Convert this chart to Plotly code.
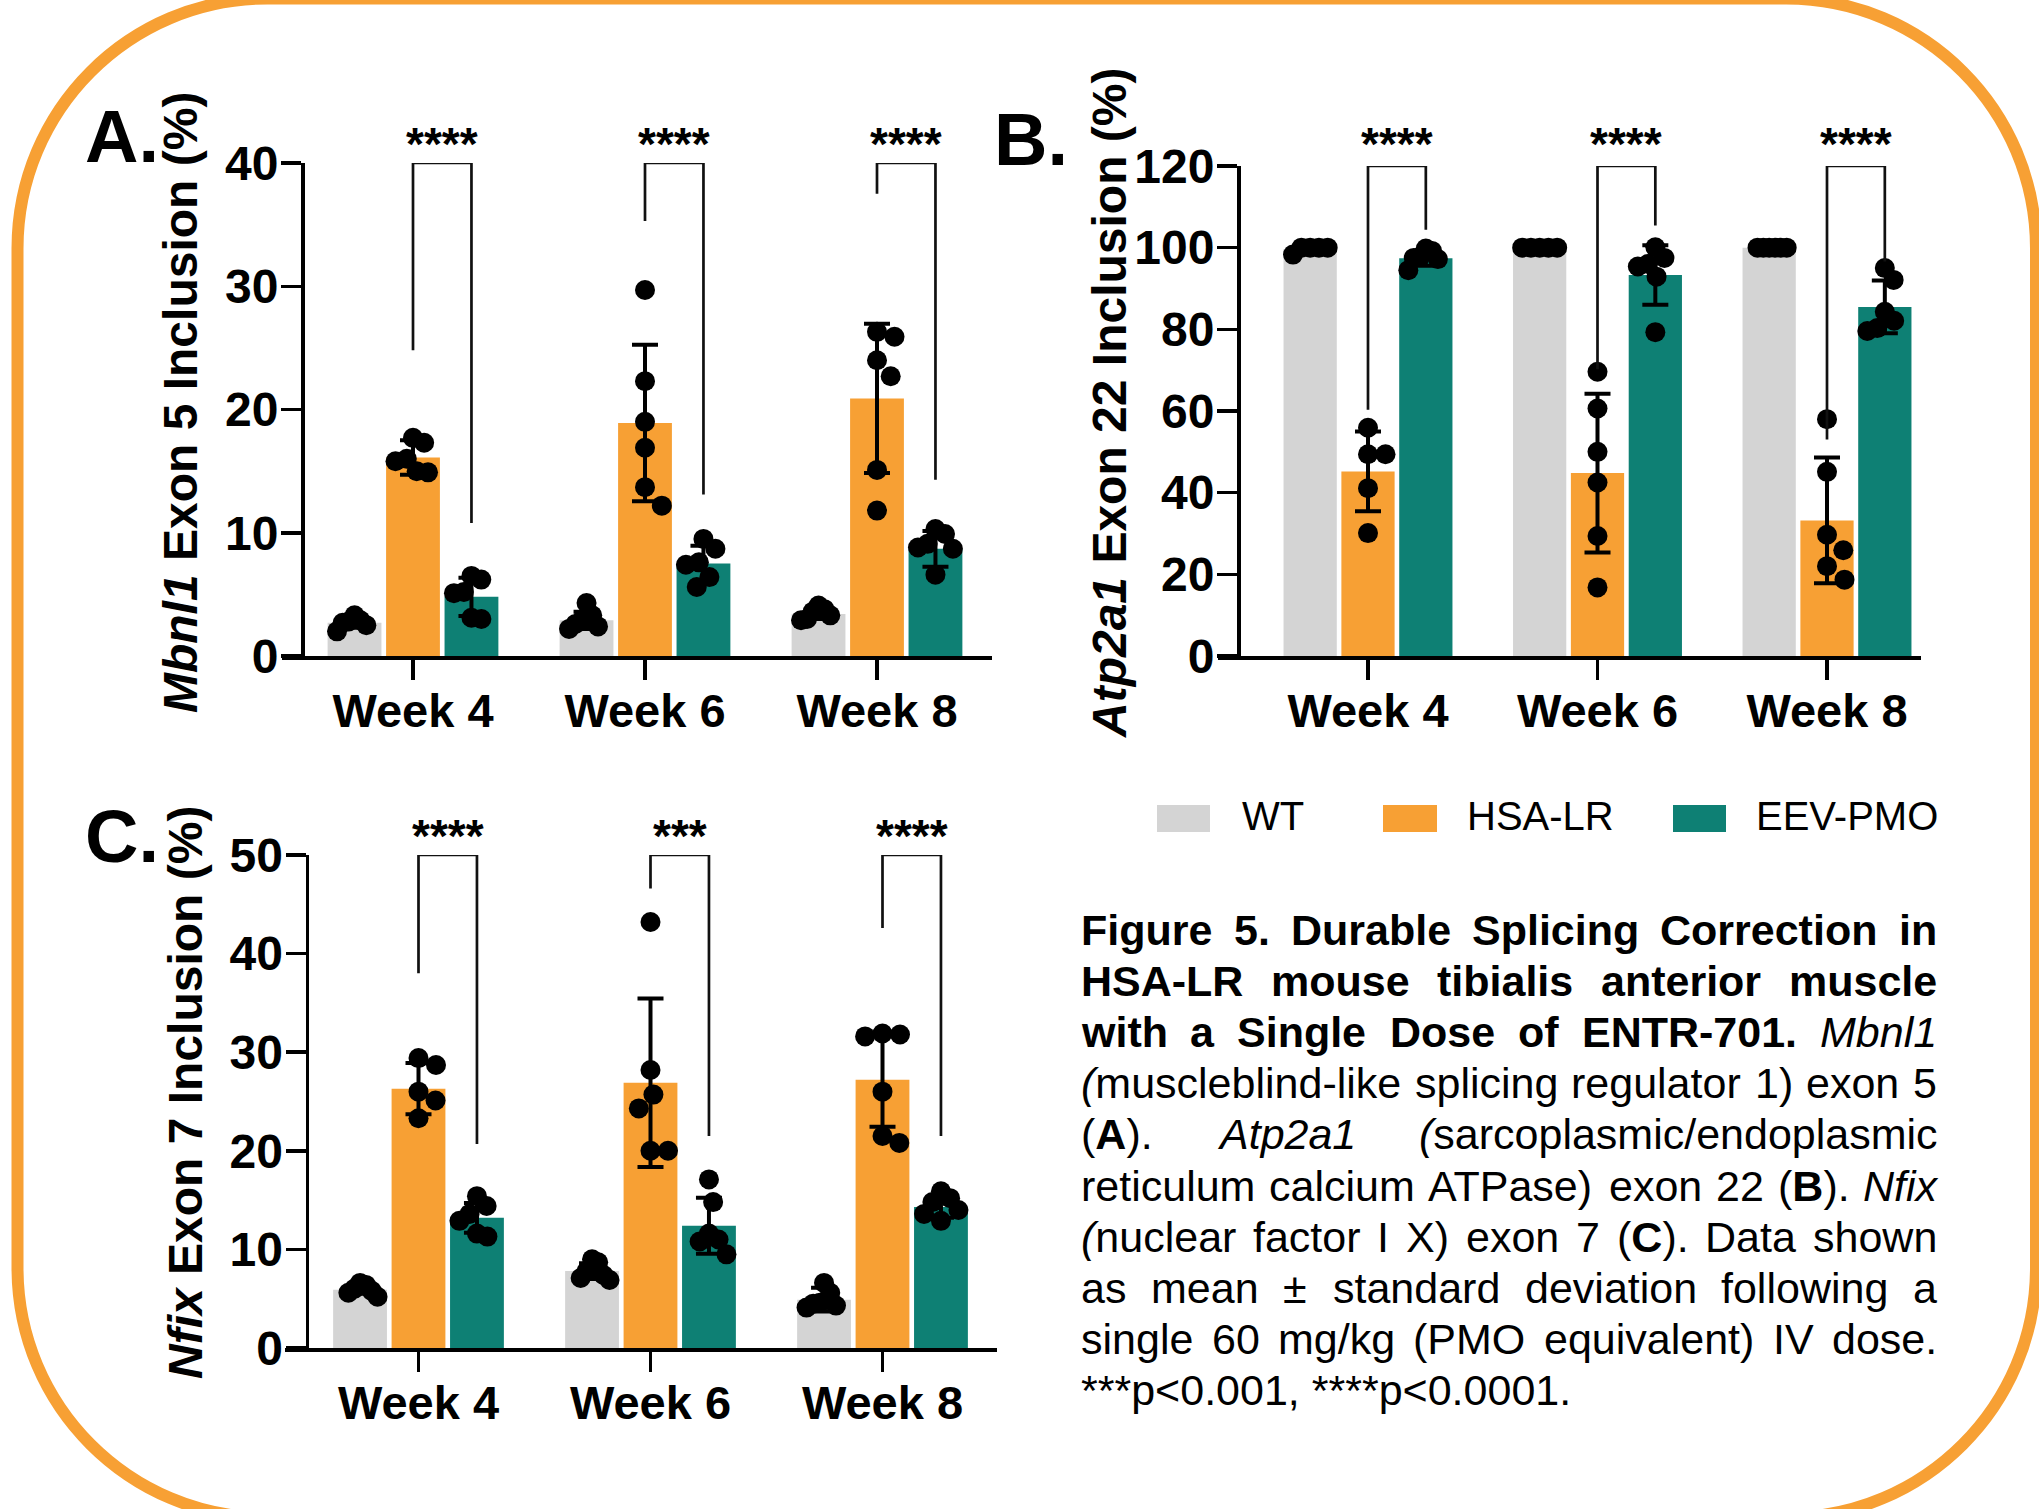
import math
import re
import plotly.graph_objects as go

# ---------------- data ----------------
weeks = ["Week 4", "Week 6", "Week 8"]
groups = ["WT", "HSA-LR", "EEV-PMO"]

# Panel A: Mbnl1 exon 5 inclusion (%)
a_wt_mean = [2.7, 2.9, 3.4]
a_wt_sd = [0.4, 0.7, 0.4]
a_wt_pts = [[2.0, 2.5, 2.7, 2.9, 3.3, 2.8], [4.3, 3.3, 2.9, 2.6, 2.4, 2.2], [3.0, 3.3, 3.6, 3.8, 4.1, 2.9]]
a_hsa_mean = [16.1, 18.9, 20.9]
a_hsa_sd = [1.4, 6.35, 6.05]
a_hsa_pts = [[17.7, 17.3, 16.0, 15.8, 15.0, 14.9], [29.7, 22.3, 19.0, 16.9, 13.7, 12.2], [26.3, 25.9, 24.0, 22.7, 15.1, 11.8]]
a_eev_mean = [4.8, 7.5, 8.7]
a_eev_sd = [1.55, 1.45, 1.45]
a_eev_pts = [[6.5, 6.2, 5.2, 5.1, 3.1, 3.0], [9.5, 8.7, 7.6, 7.4, 6.4, 5.6], [10.3, 9.9, 9.1, 8.8, 8.7, 6.6]]
a_brk_left = [24.8, 35.3, 37.5]
a_brk_right = [10.8, 13.1, 14.3]
a_stars = ["****", "****", "****"]

# Panel B: Atp2a1 exon 22 inclusion (%)
b_wt_mean = [99.7, 100.0, 100.0]
b_wt_sd = [0.6, 0.0, 0.0]
b_wt_pts = [[100, 100, 100, 98.3, 100], [100, 100, 100, 100, 100], [100, 100, 100, 100, 100, 100]]
b_hsa_mean = [45.2, 44.8, 33.2]
b_hsa_sd = [9.75, 19.45, 15.4]
b_hsa_pts = [[55.9, 49.4, 49.4, 41.1, 30.1], [69.6, 60.6, 50.0, 42.5, 29.4, 16.8], [58.0, 45.1, 29.7, 25.9, 22.0, 18.7]]
b_eev_mean = [97.4, 93.3, 85.5]
b_eev_sd = [1.8, 7.3, 6.45]
b_eev_pts = [[99.8, 99.2, 97.8, 97.5, 97.2, 94.5], [100.1, 97.5, 96.0, 95.4, 92.9, 79.3], [95.0, 92.1, 84.3, 82.1, 80.3, 79.6]]
b_brk_left = [60.3, 70.2, 53.0]
b_brk_right = [104.4, 105.4, 96.6]
b_stars = ["****", "****", "****"]

# Panel C: Nfix exon 7 inclusion (%)
c_wt_mean = [5.9, 7.8, 4.9]
c_wt_sd = [0.4, 0.8, 1.2]
c_wt_pts = [[6.6, 6.4, 6.0, 5.8, 5.6, 5.2], [9.0, 8.7, 7.8, 7.4, 7.1, 6.9], [6.6, 5.6, 4.6, 4.3, 4.1, 4.5]]
c_hsa_mean = [26.3, 26.9, 27.2]
c_hsa_sd = [2.6, 8.55, 4.75]
c_hsa_pts = [[29.4, 28.7, 26.0, 25.1, 23.3], [43.2, 28.2, 25.7, 24.3, 20.0, 20.0], [31.9, 31.8, 31.6, 26.0, 21.5, 20.8]]
c_eev_mean = [13.2, 12.4, 14.3]
c_eev_sd = [1.5, 2.85, 1.1]
c_eev_pts = [[15.4, 14.4, 13.6, 12.9, 11.6, 11.3], [17.1, 14.8, 11.6, 11.0, 10.8, 9.5], [15.9, 15.2, 14.8, 14.0, 13.6, 12.9]]
c_brk_left = [38.0, 46.6, 42.6]
c_brk_right = [20.7, 21.5, 21.5]
c_stars = ["****", "***", "****"]

colors = ["#D4D4D4", "#F7A034", "#0E8074"]
FONT = "Liberation Sans, Arial, Helvetica, sans-serif"

# ---------------- layout helpers ----------------
W, H = 2039, 1509


def px(x):
    return x / W


def py(y):
    return 1 - y / H


def swarm(vals, ppy, D=25.0, limit=17.5):
    n = len(vals)
    order = sorted(range(n), key=lambda i: -vals[i])
    placed = []
    offs = [0.0] * n
    for i in order:
        y = vals[i] * ppy
        cands = [0.0]
        for (qx, qy) in placed:
            dy = abs(qy - y)
            if dy < D:
                dx = math.sqrt(D * D - dy * dy)
                cands += [qx + dx, qx - dx]
        cands.sort(key=lambda c: (round(abs(c), 6), -c))
        chosen = cands[-1]
        for c in cands:
            if all((c - qx) ** 2 + (y - qy) ** 2 >= D * D - 1e-6 for qx, qy in placed):
                chosen = c
                break
        placed.append((chosen, y))
        offs[i] = chosen
    m = max(abs(o) for o in offs)
    if m > limit:
        offs = [o * limit / m for o in offs]
    return offs


panels = [
    dict(name="A", means=[a_wt_mean, a_hsa_mean, a_eev_mean], sds=[a_wt_sd, a_hsa_sd, a_eev_sd],
         pts=[a_wt_pts, a_hsa_pts, a_eev_pts], bl=a_brk_left, br=a_brk_right, stars=a_stars,
         ymax=40, dtick=10, xl=282, xr=992, yax=302, x0=413, unit=232, ytop=163, ybot=656,
         title="<b><i>Mbnl1</i> Exon 5 Inclusion (%)</b>", tx=181, ty=403, lx=84, ly=136.5, star_shift=19),
    dict(name="B", means=[b_wt_mean, b_hsa_mean, b_eev_mean], sds=[b_wt_sd, b_hsa_sd, b_eev_sd],
         pts=[b_wt_pts, b_hsa_pts, b_eev_pts], bl=b_brk_left, br=b_brk_right, stars=b_stars,
         ymax=120, dtick=20, xl=1218, xr=1921, yax=1238, x0=1368, unit=229.5, ytop=166, ybot=656,
         title="<b><i>Atp2a1</i> Exon 22 Inclusion (%)</b>", tx=1110, ty=403, lx=993, ly=139.5, star_shift=22),
    dict(name="C", means=[c_wt_mean, c_hsa_mean, c_eev_mean], sds=[c_wt_sd, c_hsa_sd, c_eev_sd],
         pts=[c_wt_pts, c_hsa_pts, c_eev_pts], bl=c_brk_left, br=c_brk_right, stars=c_stars,
         ymax=50, dtick=10, xl=285, xr=997, yax=306.5, x0=418.5, unit=232, ytop=855, ybot=1348,
         title="<b><i>Nfix</i> Exon 7 Inclusion (%)</b>", tx=185, ty=1093, lx=84, ly=836.5, star_shift=19),
]

OFF = 0.252
BW = 0.232

fig = go.Figure()
shapes = []
annotations = []
layout_axes = {}

for pi, p in enumerate(panels):
    sfx = "" if pi == 0 else str(pi + 1)
    xa, ya = "x" + sfx, "y" + sfx
    ppy = (p["ybot"] - p["ytop"]) / p["ymax"]
    cats = list(range(len(weeks)))
    for g in range(3):
        fig.add_trace(go.Bar(
            x=[c + (g - 1) * OFF for c in cats], y=p["means"][g], width=BW,
            marker=dict(color=colors[g], line=dict(width=0)),
            error_y=dict(type="data", array=p["sds"][g], color="black", thickness=4, width=13),
            name=groups[g], showlegend=False, xaxis=xa, yaxis=ya, hoverinfo="skip"))
    sx, sy = [], []
    for g in range(3):
        for c in cats:
            vals = p["pts"][g][c]
            offs = swarm(vals, ppy)
            for v, o in zip(vals, offs):
                sx.append(c + (g - 1) * OFF + o / p["unit"])
                sy.append(v)
    fig.add_trace(go.Scatter(x=sx, y=sy, mode="markers", marker=dict(color="black", size=20, line=dict(width=0)),
                             cliponaxis=False, showlegend=False, xaxis=xa, yaxis=ya, hoverinfo="skip"))
    # significance brackets
    for c in cats:
        x1, x2 = c, c + OFF
        top = p["ymax"]
        shapes.append(dict(type="path", xref=xa, yref=ya,
                           path=f"M {x1} {p['bl'][c]} L {x1} {top} L {x2} {top} L {x2} {p['br'][c]}",
                           line=dict(color="#111111", width=2.7)))
        annotations.append(dict(x=(x1 + x2) / 2, y=top, xref=xa, yref=ya, text=p["stars"][c], showarrow=False,
                                xanchor="center", yanchor="middle", yshift=p["star_shift"],
                                font=dict(family=FONT, size=46, color="black", weight="bold")))
    # axes
    xl_u = (p["xl"] - p["x0"]) / p["unit"]
    xr_u = (p["xr"] - p["x0"]) / p["unit"]
    layout_axes["xaxis" + sfx] = dict(
        domain=[px(p["xl"]), px(p["xr"])], range=[xl_u, xr_u], anchor=ya, automargin=False,
        tickmode="array", tickvals=cats, ticktext=weeks, ticks="outside", ticklen=20, tickwidth=3.5,
        tickcolor="black", showline=True, linewidth=3.5, linecolor="black", showgrid=False, zeroline=False,
        tickfont=dict(family=FONT, size=47, color="black", weight="bold"), ticklabelstandoff=-9, fixedrange=True)
    layout_axes["yaxis" + sfx] = dict(
        domain=[py(p["ybot"]), py(p["ytop"])], range=[0, p["ymax"]], anchor="free", position=px(p["yax"]),
        automargin=False,
        tickmode="linear", tick0=0, dtick=p["dtick"], ticks="outside", ticklen=20, tickwidth=3.5,
        tickcolor="black", showline=True, linewidth=3.5, linecolor="black", showgrid=False, zeroline=False,
        tickfont=dict(family=FONT, size=48, color="black", weight="bold"), ticklabelstandoff=-7, fixedrange=True)
    # y title and panel letter
    annotations.append(dict(x=px(p["tx"]), y=py(p["ty"]), xref="paper", yref="paper", text=p["title"],
                            textangle=-90, showarrow=False, xanchor="center", yanchor="middle",
                            font=dict(family=FONT, size=48, color="black")))
    annotations.append(dict(x=px(p["lx"]), y=py(p["ly"]), xref="paper", yref="paper", text="<b>" + p["name"] + ".</b>",
                            showarrow=False, xanchor="left", yanchor="middle", borderpad=0,
                            font=dict(family=FONT, size=74, color="black")))

# ---------------- legend ----------------
leg_sw = [(1157, 1210), (1383, 1437), (1673, 1726)]
leg_tx = [1241, 1466, 1755]
for g in range(3):
    shapes.append(dict(type="rect", xref="paper", yref="paper", x0=px(leg_sw[g][0]), x1=px(leg_sw[g][1]),
                       y0=py(832), y1=py(805), fillcolor=colors[g], line=dict(width=0)))
    annotations.append(dict(x=px(leg_tx[g]), y=py(816), xref="paper", yref="paper", text=groups[g],
                            showarrow=False, xanchor="left", yanchor="middle", borderpad=0,
                            font=dict(family=FONT, size=40, color="black")))

# ---------------- caption (justified) ----------------
WR = {' ': 278, '(': 333, ')': 333, '*': 389, '+': 584, ',': 278, '-': 333, '.': 278, '/': 278, ':': 278,
      ';': 278, '<': 584, '±': 584,
      'A': 667, 'B': 667, 'C': 722, 'D': 722, 'E': 667, 'F': 611, 'G': 778, 'H': 722, 'I': 278, 'J': 500,
      'K': 667, 'L': 556, 'M': 833, 'N': 722, 'O': 778, 'P': 667, 'Q': 778, 'R': 722, 'S': 667, 'T': 611,
      'U': 722, 'V': 667, 'W': 944, 'X': 667, 'Y': 667, 'Z': 611,
      'a': 556, 'b': 556, 'c': 500, 'd': 556, 'e': 556, 'f': 278, 'g': 556, 'h': 556, 'i': 222, 'j': 222,
      'k': 500, 'l': 222, 'm': 833, 'n': 556, 'o': 556, 'p': 556, 'q': 556, 'r': 333, 's': 500, 't': 278,
      'u': 556, 'v': 500, 'w': 722, 'x': 500, 'y': 500, 'z': 500}
WB = {' ': 278, '(': 333, ')': 333, '*': 389, ',': 278, '-': 333, '.': 278, '/': 278, ':': 333,
      'A': 722, 'B': 722, 'C': 722, 'D': 722, 'E': 667, 'F': 611, 'G': 778, 'H': 722, 'I': 278, 'J': 556,
      'K': 722, 'L': 611, 'M': 833, 'N': 722, 'O': 778, 'P': 667, 'Q': 778, 'R': 722, 'S': 667, 'T': 611,
      'U': 722, 'V': 667, 'W': 944, 'X': 667, 'Y': 667, 'Z': 611,
      'a': 556, 'b': 611, 'c': 556, 'd': 611, 'e': 556, 'f': 333, 'g': 611, 'h': 611, 'i': 278, 'j': 278,
      'k': 556, 'l': 278, 'm': 889, 'n': 611, 'o': 611, 'p': 611, 'q': 611, 'r': 389, 's': 556, 't': 333,
      'u': 611, 'v': 556, 'w': 778, 'x': 556, 'y': 556, 'z': 500}
for d in "0123456789":
    WR[d] = 556
    WB[d] = 556


def word_width(word, size):
    total, bold = 0, False
    for tok in re.split(r"(</?[bi]>)", word):
        if tok == "<b>":
            bold = True
        elif tok == "</b>":
            bold = False
        elif tok in ("<i>", "</i>", ""):
            continue
        else:
            tab = WB if bold else WR
            total += sum(tab.get(ch, 556) for ch in tok)
    return total * size / 1000.0


caption_lines = [
    ["<b>Figure</b>", "<b>5.</b>", "<b>Durable</b>", "<b>Splicing</b>", "<b>Correction</b>", "<b>in</b>"],
    ["<b>HSA-LR</b>", "<b>mouse</b>", "<b>tibialis</b>", "<b>anterior</b>", "<b>muscle</b>"],
    ["<b>with</b>", "<b>a</b>", "<b>Single</b>", "<b>Dose</b>", "<b>of</b>", "<b>ENTR-701.</b>", "<i>Mbnl1</i>"],
    ["<i>(</i>muscleblind-like", "splicing", "regulator", "1)", "exon", "5"],
    ["(<b>A</b>).", "<i>Atp2a1</i>", "<i>(</i>sarcoplasmic/endoplasmic"],
    ["reticulum", "calcium", "ATPase)", "exon", "22", "(<b>B</b>).", "<i>Nfix</i>"],
    ["<i>(</i>nuclear", "factor", "I", "X)", "exon", "7", "(<b>C</b>).", "Data", "shown"],
    ["as", "mean", "±", "standard", "deviation", "following", "a"],
    ["single", "60", "mg/kg", "(PMO", "equivalent)", "IV", "dose."],
]
caption_last = "***p&lt;0.001, ****p&lt;0.0001."

CAP_L, CAP_R, CAP_Y0, CAP_DY, CAP_FS = 1080, 1936, 930, 51.1, 43
for li, words in enumerate(caption_lines):
    widths = [word_width(w, CAP_FS) for w in words]
    gap = (CAP_R - CAP_L - sum(widths)) / (len(words) - 1)
    x = CAP_L
    yy = CAP_Y0 + li * CAP_DY
    for w, wd in zip(words, widths):
        annotations.append(dict(x=px(x), y=py(yy), xref="paper", yref="paper", text=w, showarrow=False,
                                xanchor="left", yanchor="middle", borderpad=0,
                                font=dict(family=FONT, size=CAP_FS, color="black")))
        x += wd + gap
annotations.append(dict(x=px(CAP_L), y=py(CAP_Y0 + len(caption_lines) * CAP_DY), xref="paper", yref="paper",
                        text=caption_last, showarrow=False, xanchor="left", yanchor="middle", borderpad=0,
                        font=dict(family=FONT, size=CAP_FS, color="black")))

# ---------------- orange rounded border ----------------
bx0, bx1, by0, by1, r = 17.5, 2036, -1.5, 1517.7, 250
k = 0.5523 * r


def P(x, y):
    return f"{px(x):.6f},{py(y):.6f}"


border = (f"M {P(bx0 + r, by0)} L {P(bx1 - r, by0)} "
          f"C {P(bx1 - r + k, by0)} {P(bx1, by0 + r - k)} {P(bx1, by0 + r)} "
          f"L {P(bx1, by1 - r)} "
          f"C {P(bx1, by1 - r + k)} {P(bx1 - r + k, by1)} {P(bx1 - r, by1)} "
          f"L {P(bx0 + r, by1)} "
          f"C {P(bx0 + r - k, by1)} {P(bx0, by1 - r + k)} {P(bx0, by1 - r)} "
          f"L {P(bx0, by0 + r)} "
          f"C {P(bx0, by0 + r - k)} {P(bx0 + r - k, by0)} {P(bx0 + r, by0)} Z")
shapes.append(dict(type="path", xref="paper", yref="paper", path=border,
                   line=dict(color="#F7A034", width=12), layer="above"))

fig.update_layout(
    template="none",
    width=W, height=H, margin=dict(l=0, r=0, t=0, b=0, pad=0, autoexpand=False), autosize=False,
    paper_bgcolor="white", plot_bgcolor="white", barmode="overlay",
    shapes=shapes, annotations=annotations, showlegend=False,
    font=dict(family=FONT, color="black"), **layout_axes)

fig.write_html("out.html", config={"displayModeBar": False, "staticPlot": True},
               post_script="document.body.style.margin='0';document.body.style.overflow='hidden';")
